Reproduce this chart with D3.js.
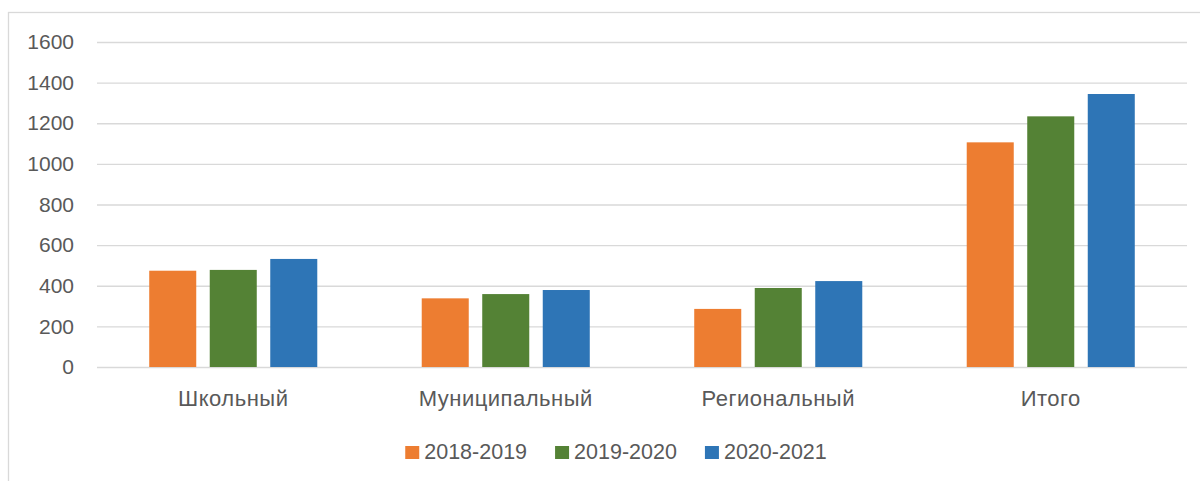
<!DOCTYPE html>
<html>
<head>
<meta charset="utf-8">
<script src="https://cdn.jsdelivr.net/npm/d3@7"></script>
<style>
  body { margin: 0; background: #fff; }
  svg { display: block; font-family: "Liberation Sans", Arial, sans-serif; }
</style>
</head>
<body>
<div id="chart"></div>
<script>
// data
const categories = ["Школьный", "Муниципальный", "Региональный", "Итого"]
const seriesNames = ["2018-2019", "2019-2020", "2020-2021"]
const values2018 = [474, 338, 286, 1106]
const values2019 = [478, 359, 389, 1234]
const values2020 = [532, 379, 423, 1344]
const yTicks = [0, 200, 400, 600, 800, 1000, 1200, 1400, 1600]

const seriesValues = [values2018, values2019, values2020]
const colors = ["#ED7D31", "#548235", "#2E75B6"]

const W = 1200, H = 481
const margin = { top: 42, right: 13, bottom: 114, left: 97 }
const w = W - margin.left - margin.right
const h = H - margin.top - margin.bottom

const svg = d3.select("#chart").append("svg")
  .attr("width", W)
  .attr("height", H)

// chart frame (cropped on right and bottom)
svg.append("rect")
  .attr("x", 8.5).attr("y", 12.5)
  .attr("width", 1300).attr("height", 600)
  .attr("fill", "none")
  .attr("stroke", "#d9d9d9")
  .attr("stroke-width", 1.3)

const g = svg.append("g")
  .attr("transform", "translate(" + margin.left + "," + margin.top + ")")

// scales
const x0 = d3.scaleBand()
  .domain(categories)
  .range([0, w])
  .padding(0)

const x1 = d3.scaleBand()
  .domain(seriesNames)
  .range([0, x0.bandwidth()])
  .paddingInner(0.223)
  .paddingOuter(0.863)

const y = d3.scaleLinear()
  .domain([0, 1600])
  .range([h, 0])

// gridlines
const yAxis = d3.axisLeft(y)
  .tickValues(yTicks)
  .tickSize(-w)
  .tickPadding(23)
  .tickFormat(d3.format("d"))

const yg = g.append("g").call(yAxis)
yg.select(".domain").remove()
yg.selectAll(".tick line")
  .attr("stroke", "#d9d9d9")
  .attr("stroke-width", 1.3)
yg.selectAll(".tick text")
  .attr("fill", "#595959")
  .attr("font-size", 21)
  .attr("font-family", "Liberation Sans, Arial, sans-serif")

// bars
const rows = categories.map((c, i) => ({
  cat: c,
  vals: seriesNames.map((s, j) => ({ key: s, value: seriesValues[j][i], color: colors[j] }))
}))

const groups = g.selectAll(".cat")
  .data(rows)
  .enter()
  .append("g")
  .attr("class", "cat")
  .attr("transform", d => "translate(" + x0(d.cat) + ",0)")

groups.selectAll("rect")
  .data(d => d.vals)
  .enter()
  .append("rect")
  .attr("x", d => x1(d.key))
  .attr("width", x1.bandwidth())
  .attr("y", d => y(d.value))
  .attr("height", d => h - y(d.value))
  .attr("fill", d => d.color)

// category labels
const xAxis = d3.axisBottom(x0).tickSize(0).tickPadding(23)
const xg = g.append("g")
  .attr("transform", "translate(0," + h + ")")
  .call(xAxis)
xg.select(".domain").remove()
xg.selectAll(".tick text")
  .attr("fill", "#595959")
  .attr("font-size", 22)
  .attr("letter-spacing", 0.5)
  .attr("font-family", "Liberation Sans, Arial, sans-serif")

// legend
const legend = svg.append("g")
const items = legend.selectAll(".item")
  .data(seriesNames)
  .enter()
  .append("g")
  .attr("class", "item")

items.append("rect")
  .attr("width", 14).attr("height", 13)
  .attr("y", -13)
  .attr("fill", (d, i) => colors[i])

items.append("text")
  .attr("x", 19)
  .attr("y", 0)
  .attr("fill", "#595959")
  .attr("font-size", 21.5)
  .text(d => d)

let offset = 0
items.each(function () {
  const bw = this.getBBox().width
  d3.select(this).attr("transform", "translate(" + offset + ",0)")
  offset += bw + 28
})
const legendWidth = offset - 28
legend.attr("transform", "translate(" + (616 - legendWidth / 2) + ",459)")
</script>
</body>
</html>
